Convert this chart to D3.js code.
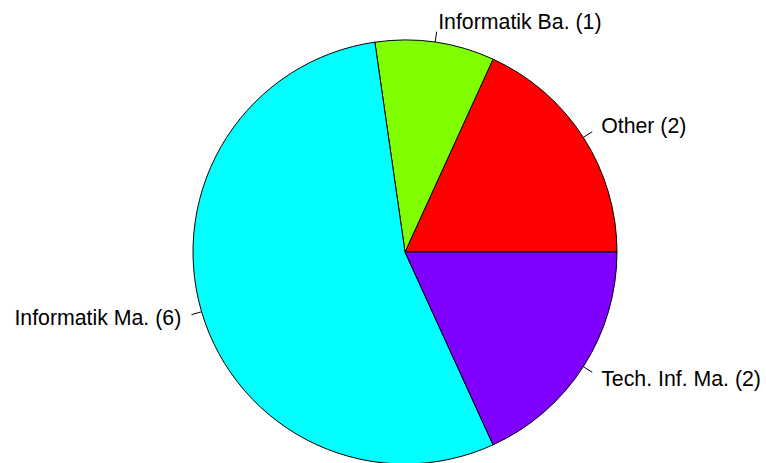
<!DOCTYPE html>
<html>
<head>
<meta charset="utf-8">
<script src="https://cdn.jsdelivr.net/npm/d3@7"></script>
<style>
  body { margin: 0; background: #fff; }
  text { font-family: "Liberation Sans", Arial, sans-serif; font-size: 21.3px; fill: #000; }
</style>
</head>
<body>
<div id="chart"></div>
<script>
"use strict"

// slice data, in drawing order (counterclockwise from 3 o'clock, like R's pie)
var labels = ['Other', 'Informatik Ba.', 'Informatik Ma.', 'Tech. Inf. Ma.'];
var counts = [2, 1, 6, 2];
var colors = ['#FF0000', '#80FF00', '#00FFFF', '#8000FF'];

var width = 766, height = 463;
var cx = 405, cy = 252, radius = 212;

var svg = d3.select("#chart")
    .append("svg")
    .attr("width", width)
    .attr("height", height)
    .append("g")
    .attr("transform", "translate(" + cx + "," + cy + ")");

var slices = labels.map(function(d, i) { return {name: d, value: counts[i], color: colors[i]}; });

// start at 3 o'clock and go counterclockwise
var pie = d3.pie()
    .sort(null)
    .value(function(d) { return d.value; })
    .startAngle(Math.PI / 2)
    .endAngle(Math.PI / 2 - 2 * Math.PI);

var arc = d3.arc().innerRadius(0).outerRadius(radius);
var arcs = pie(slices);

svg.selectAll("path.slice")
    .data(arcs)
    .enter()
    .append("path")
    .attr("class", "slice")
    .attr("d", arc)
    .attr("fill", function(d) { return d.data.color; })
    .attr("stroke", "#000")
    .attr("stroke-width", 1);

function pt(a, r) { return [Math.sin(a) * r, -Math.cos(a) * r]; }

// tick lines from r to 1.05r, label at 1.1r
arcs.forEach(function(d) {
    var mid = (d.startAngle + d.endAngle) / 2;
    var p0 = pt(mid, radius), p1 = pt(mid, radius * 1.05), p2 = pt(mid, radius * 1.1);
    svg.append("line")
        .attr("x1", p0[0]).attr("y1", p0[1])
        .attr("x2", p1[0]).attr("y2", p1[1])
        .attr("stroke", "#000");
    svg.append("text")
        .attr("x", p2[0])
        .attr("y", p2[1])
        .attr("dy", "0.35em")
        .attr("text-anchor", p2[0] > 0 ? "start" : "end")
        .text(d.data.name + " (" + d.data.value + ")");
});
</script>
</body>
</html>
